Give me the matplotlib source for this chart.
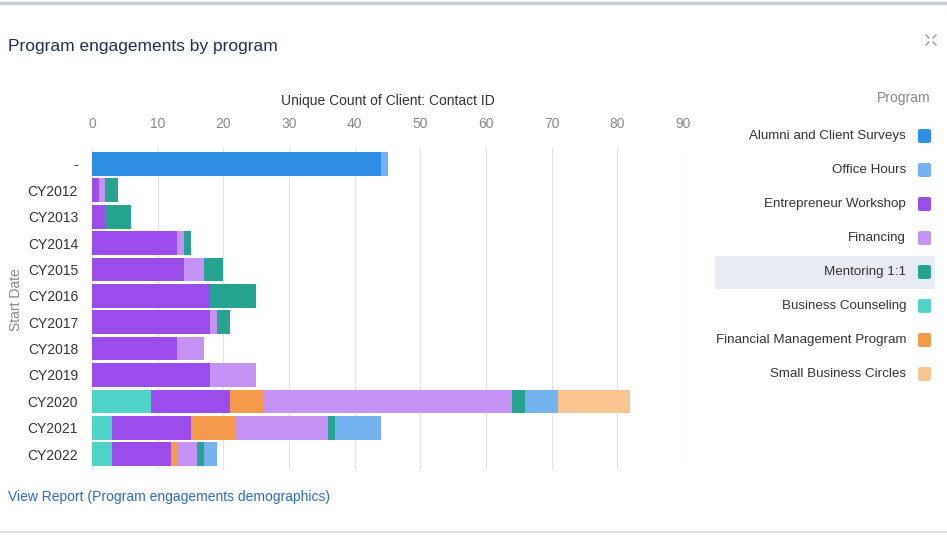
import matplotlib
matplotlib.use("Agg")
import matplotlib.pyplot as plt
from matplotlib.patches import FancyBboxPatch, Rectangle
from matplotlib.lines import Line2D
import numpy as np

plt.rcParams['font.family'] = ['Liberation Sans', 'DejaVu Sans']
fs = 10

W, H = 947, 535

# data
years = ['-', 'CY2012', 'CY2013', 'CY2014', 'CY2015', 'CY2016', 'CY2017',
         'CY2018', 'CY2019', 'CY2020', 'CY2021', 'CY2022']
programs = ['Alumni and Client Surveys', 'Business Counseling', 'Entrepreneur Workshop',
            'Financial Management Program', 'Financing', 'Mentoring 1:1',
            'Office Hours', 'Small Business Circles']
alumni = [44, 0, 0, 0, 0, 0, 0, 0, 0, 0, 0, 0]
business_counseling = [0, 0, 0, 0, 0, 0, 0, 0, 0, 9, 3, 3]
entrepreneur = [0, 1, 2, 13, 14, 18, 18, 13, 18, 12, 12, 9]
fin_mgmt = [0, 0, 0, 0, 0, 0, 0, 0, 0, 5, 7, 1]
financing = [0, 1, 0, 1, 3, 0, 1, 4, 7, 38, 14, 3]
mentoring = [0, 2, 4, 1, 3, 7, 2, 0, 0, 2, 1, 1]
office_hours = [1, 0, 0, 0, 0, 0, 0, 0, 0, 5, 7, 2]
small_circles = [0, 0, 0, 0, 0, 0, 0, 0, 0, 11, 0, 0]

colors = {
    'Alumni and Client Surveys': '#2e8ee6',
    'Office Hours': '#74b3ef',
    'Entrepreneur Workshop': '#9a4deb',
    'Financing': '#c392f2',
    'Mentoring 1:1': '#27a391',
    'Business Counseling': '#4fd3c6',
    'Financial Management Program': '#f59a4b',
    'Small Business Circles': '#f9c590',
}
legend_order = ['Alumni and Client Surveys', 'Office Hours', 'Entrepreneur Workshop',
                'Financing', 'Mentoring 1:1', 'Business Counseling',
                'Financial Management Program', 'Small Business Circles']

series = dict(zip(programs, [alumni, business_counseling, entrepreneur, fin_mgmt,
                             financing, mentoring, office_hours, small_circles]))

fig = plt.figure(figsize=(W / 100, H / 100), dpi=100)
fig.patch.set_facecolor('white')


def fx(px):
    return px / W


def fy(py):
    return 1 - py / H


ax = fig.add_axes([fx(92), fy(470), fx(683) - fx(92), fy(148) - fy(470)])
y = np.arange(len(years))
left = np.zeros(len(years))
for p in programs:
    vals = np.array(series[p], dtype=float)
    ax.barh(y, vals, left=left, height=0.9, color=colors[p], edgecolor='none', zorder=3)
    left += vals

ax.set_xlim(0, 90)
ax.set_ylim(11.6, -0.6)
ax.set_xticks(range(0, 91, 10))
ax.set_yticks(y)
ax.set_yticklabels(years, fontsize=fs, color='#333333')
ax.xaxis.tick_top()
ax.tick_params(axis='x', length=0, labelsize=fs, labelcolor='#888888', pad=12)
ax.tick_params(axis='y', length=0, pad=10)
ax.grid(axis='x', color='#e4e4e4', linewidth=0.8, zorder=0)
for s in ax.spines.values():
    s.set_visible(False)

fig.text(fx(388), fy(101), 'Unique Count of Client: Contact ID', fontsize=fs,
         color='#333333', ha='center', va='center')
fig.text(fx(16), fy(300), 'Start Date', fontsize=fs, color='#888888',
         rotation=90, ha='center', va='center')

# title and footer
fig.text(fx(8), fy(47), 'Program engagements by program', fontsize=12.5,
         color='#1f2f4d', ha='left', va='center')
fig.text(fx(8), fy(497), 'View Report (Program engagements demographics)', fontsize=fs,
         color='#2a6cc0', ha='left', va='center')

# borders
fig.add_artist(Line2D([0, 1], [fy(3), fy(3)], color='#c5c9d2', linewidth=2.5))
fig.add_artist(Line2D([0, 1], [fy(532), fy(532)], color='#dfe2e8', linewidth=1.5))

# expand icon
for dx, dy in [(-1, -1), (1, -1), (-1, 1), (1, 1)]:
    cx, cy = 931, 40
    fig.add_artist(Line2D([fx(cx + dx * 2), fx(cx + dx * 5)], [fy(cy + dy * 2), fy(cy + dy * 5)],
                          color='#999999', linewidth=1))

# legend
fig.text(fx(930), fy(98), 'Program', fontsize=fs, color='#888888', ha='right', va='center')
fig.add_artist(Rectangle((fx(715), fy(289)), fx(935) - fx(715), fy(256) - fy(289),
                         facecolor='#e7ebf3', edgecolor='none', transform=fig.transFigure))
for i, name in enumerate(legend_order):
    ly = 136 + i * 34.0
    fig.text(fx(906), fy(ly), name, fontsize=9.6, color='#333333', ha='right', va='center')
    fig.add_artist(FancyBboxPatch((fx(918), fy(ly + 7)), fx(13), fy(0) - fy(14),
                                  boxstyle='round,pad=0,rounding_size=0.003',
                                  facecolor=colors[name], edgecolor='none',
                                  transform=fig.transFigure))

fig.savefig('out.png', dpi=100)
